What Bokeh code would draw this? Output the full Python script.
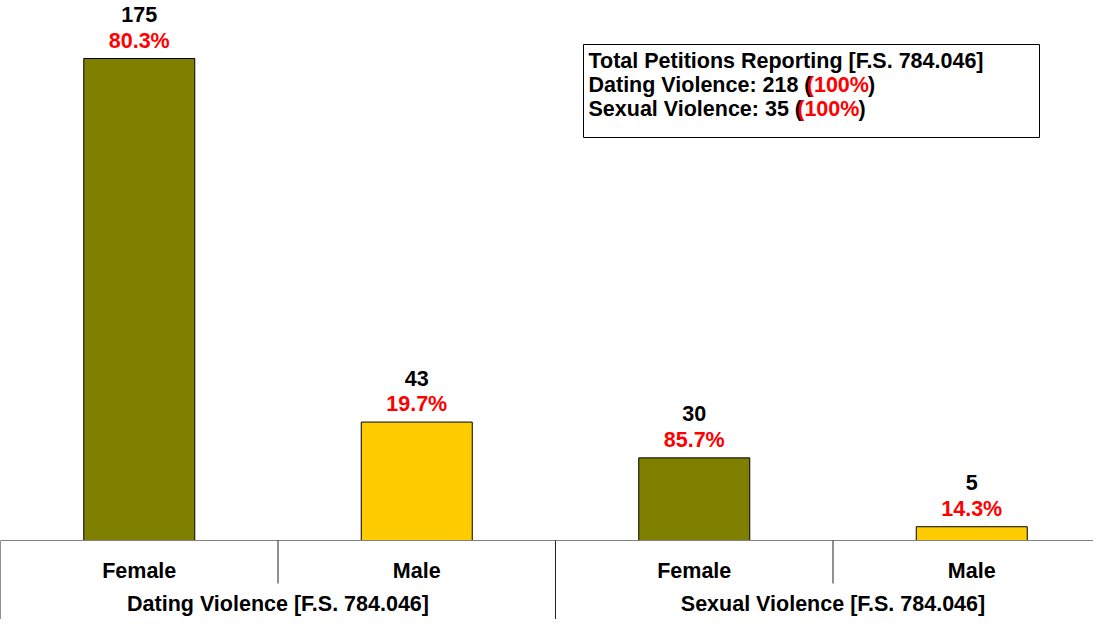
from bokeh.plotting import figure
from bokeh.models import Range1d, ColumnDataSource
from bokeh.core.properties import value
from bokeh.embed import file_html
from bokeh.resources import INLINE

# ---- data ----
groups = ["Dating Violence [F.S. 784.046]", "Sexual Violence [F.S. 784.046]"]
genders = ["Female", "Male", "Female", "Male"]
counts = [175, 43, 30, 5]
percents = ["80.3%", "19.7%", "85.7%", "14.3%"]
colors = ["#808000", "#FFCC00", "#808000", "#FFCC00"]
box_title = "Total Petitions Reporting [F.S. 784.046]"
box_lines = [("Dating Violence: 218 ", "100%"), ("Sexual Violence: 35 ", "100%")]

# ---- layout (pixels) ----
W_FIG, H_FIG = 1093, 619
CELL = 277.5                 # px per category
BASE = 540                   # baseline offset from top of frame
SCALE = 482 / 175            # px per unit
FS = 21.5
FSZ = f"{FS}px"

def dx(px):  # frame px -> data x
    return px / CELL

def dy(py):  # frame px from top -> data y
    return (BASE - py) / SCALE

p = figure(width=W_FIG, height=H_FIG, output_backend="svg", toolbar_location=None,
           x_range=Range1d(0, W_FIG / CELL), y_range=Range1d(dy(H_FIG), dy(0)),
           min_border=0, outline_line_color=None)
p.axis.visible = False
p.grid.visible = False
p.background_fill_color = "white"
p.border_fill_color = "white"

xs = [i + 0.5 for i in range(len(counts))]
src = ColumnDataSource(dict(x=xs, top=counts, color=colors, cnt=[str(c) for c in counts],
                            pct=percents, gender=genders))

FONT = value("Liberation Sans")

p.vbar(x="x", top="top", bottom=0, width=0.4, source=src, fill_color="color",
       line_color="black", line_width=1)

p.text(x="x", y="top", text="cnt", source=src, text_font=FONT, text_font_style="bold",
       text_font_size=FSZ, text_color="black", text_align="center",
       text_baseline="middle", y_offset=-44)
p.text(x="x", y="top", text="pct", source=src, text_font=FONT, text_font_style="bold",
       text_font_size=FSZ, text_color="#FF0000", text_align="center",
       text_baseline="middle", y_offset=-18)

# category axis table
x_end = W_FIG / CELL
p.segment(x0=[0], y0=[0], x1=[x_end], y1=[0], line_color="#808080", line_width=1)
ybot = dy(H_FIG)
p.segment(x0=[0, 2], y0=[0, 0], x1=[0, 2], y1=[ybot, ybot], line_color="#222222", line_width=1)
p.segment(x0=[1, 3], y0=[0, 0], x1=[1, 3], y1=[dy(583), dy(583)], line_color="#222222", line_width=1)

p.text(x="x", y=dy(570), text="gender", source=src, text_font=FONT, text_font_style="bold",
       text_font_size=FSZ, text_color="black", text_align="center", text_baseline="middle")
p.text(x=[1, 3], y=[dy(603), dy(603)], text=groups, text_font=FONT, text_font_style="bold",
       text_font_size=FSZ, text_color="black", text_align="center", text_baseline="middle")

# info box
p.quad(left=dx(583), right=dx(1039), top=dy(44), bottom=dy(137), fill_color="white",
       line_color="black", line_width=1)
tx = dx(588)
p.text(x=[tx], y=[dy(60)], text=[box_title], text_font=FONT, text_font_style="bold",
       text_font_size=FSZ, text_color="black", text_align="left", text_baseline="middle")
widths = {"D": .722, "a": .556, "t": .333, "i": .278, "n": .611, "g": .611, " ": .278,
          "V": .667, "o": .611, "l": .278, "e": .556, "c": .556, ":": .333, "S": .667,
          "x": .556, "u": .611, "2": .556, "1": .556, "8": .556, "3": .556, "5": .556}
for i, (lbl, pc) in enumerate(box_lines):
    yy = dy(84 + 24 * i)
    p.text(x=[tx], y=[yy], text=[lbl + "("], text_font=FONT, text_font_style="bold",
           text_font_size=FSZ, text_color="black", text_align="left", text_baseline="middle")
    w = sum(widths.get(ch, .556) for ch in lbl) * FS
    p.text(x=[tx], y=[yy], text=["(" + pc], text_font=FONT, text_font_style="bold",
           text_font_size=FSZ, text_color="#FF0000", text_align="left", text_baseline="middle",
           x_offset=w + 2)
    w2 = w + 2 + (0.333 + 0.556 * 3 + 0.889) * FS
    p.text(x=[tx], y=[yy], text=[")"], text_font=FONT, text_font_style="bold",
           text_font_size=FSZ, text_color="black", text_align="left", text_baseline="middle",
           x_offset=w2 - 1)

open("out.html", "w").write(file_html(p, INLINE))
